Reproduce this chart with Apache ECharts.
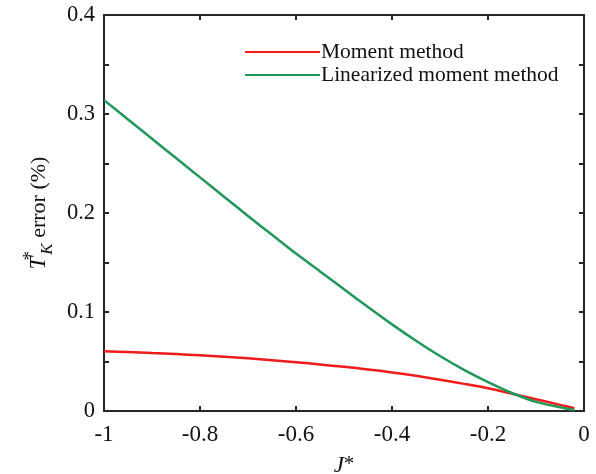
<!DOCTYPE html>
<html>
<head>
<meta charset="utf-8">
<script src="https://cdn.jsdelivr.net/npm/echarts@6/dist/echarts.min.js"></script>
<style>
  html, body { margin: 0; padding: 0; background: #fff; }
  #chart { width: 596px; height: 474px; }
</style>
</head>
<body>
<div id="chart"></div>
<script>
// Exchange parameter J* (shared by both curves)
const jValues = [-1, -0.95, -0.9, -0.85, -0.8, -0.75, -0.7, -0.65, -0.6, -0.55, -0.5,
  -0.45, -0.4, -0.35, -0.3, -0.25, -0.2, -0.15, -0.1, -0.05, -0.02];
// T*_K error (%) of the moment method
const momentErr = [0.0603, 0.0595, 0.0585, 0.0575, 0.0563, 0.0548, 0.0532, 0.0513, 0.0492, 0.047, 0.0446,
  0.042, 0.039, 0.0355, 0.0316, 0.0274, 0.0229, 0.0175, 0.0118, 0.0062, 0.0028];
// T*_K error (%) of the linearized moment method
const linearizedErr = [0.314, 0.2945, 0.275, 0.2555, 0.236, 0.2165, 0.197, 0.178, 0.159, 0.141, 0.123,
  0.105, 0.0875, 0.071, 0.0555, 0.0415, 0.0292, 0.0182, 0.0092, 0.0038, 0.001];
// Axis ticks
const xTicks = { min: -1, max: 0, step: 0.2 };
const yTicks = { min: 0, max: 0.4, step: 0.05, labelStep: 0.1 };
const seriesNames = ['Moment method', 'Linearized moment method'];

const FONT = 'Liberation Serif';
const INK = '#111';
const AXIS = '#262626';

const pairs = (ys) => jValues.map((x, i) => [x, ys[i]]);

const axisLineStyle = { show: true, onZero: false, lineStyle: { color: AXIS, width: 2 } };
const tickStyle = { show: true, inside: true, length: 5, lineStyle: { color: AXIS, width: 2 } };

// Only every other y tick carries a label
const yLabel = (v) => {
  const r = v / yTicks.labelStep;
  return Math.abs(r - Math.round(r)) < 1e-6 ? String(+v.toFixed(2)) : '';
};

const chart = echarts.init(document.getElementById('chart'), null, { renderer: 'canvas' });
chart.setOption({
  animation: false,
  backgroundColor: '#fff',
  grid: { left: 104, right: 12, top: 15, bottom: 63, containLabel: false, outerBoundsMode: 'none' },
  legend: {
    orient: 'vertical',
    left: 240,
    top: 36,
    itemWidth: 75,
    itemHeight: 14,
    itemGap: 1,
    icon: 'path://M0,6 L75,6 L75,8 L0,8 Z',
    textStyle: { fontFamily: FONT, fontSize: 21.5, lineHeight: 22, color: INK, padding: [0, 0, 0, -4] },
    data: seriesNames
  },
  xAxis: [
    {
      type: 'value', min: xTicks.min, max: xTicks.max, interval: xTicks.step,
      axisLine: axisLineStyle, axisTick: tickStyle, splitLine: { show: false },
      axisLabel: { fontFamily: FONT, fontSize: 23, color: INK, margin: 12 },
      name: '{j|J}{s|*}', nameLocation: 'middle', nameGap: 43,
      nameTextStyle: {
        rich: {
          j: { fontFamily: FONT, fontSize: 23, fontStyle: 'italic', color: INK },
          s: { fontFamily: FONT, fontSize: 21, color: INK, verticalAlign: 'top', lineHeight: 24 }
        }
      }
    },
    {
      type: 'value', position: 'top', min: xTicks.min, max: xTicks.max, interval: xTicks.step,
      axisLine: axisLineStyle, axisTick: tickStyle, axisLabel: { show: false }, splitLine: { show: false }
    }
  ],
  yAxis: [
    {
      type: 'value', min: yTicks.min, max: yTicks.max, interval: yTicks.step,
      axisLine: axisLineStyle, axisTick: tickStyle, splitLine: { show: false },
      axisLabel: { fontFamily: FONT, fontSize: 22.5, color: INK, margin: 9, formatter: yLabel },
      name: '{t|T}{s|*}{k|K}{e| error (%)}', nameLocation: 'middle', nameGap: 47, nameRotate: 90,
      nameTextStyle: {
        rich: {
          t: { fontFamily: FONT, fontSize: 23, fontStyle: 'italic', color: INK, lineHeight: 34 },
          s: { fontFamily: FONT, fontSize: 19, color: INK, verticalAlign: 'top', width: 2, lineHeight: 34 },
          k: { fontFamily: FONT, fontSize: 17, fontStyle: 'italic', color: INK, verticalAlign: 'bottom', lineHeight: 34 },
          e: { fontFamily: FONT, fontSize: 22, color: INK, lineHeight: 34 }
        }
      }
    },
    {
      type: 'value', position: 'right', min: yTicks.min, max: yTicks.max, interval: yTicks.step,
      axisLine: axisLineStyle, axisTick: tickStyle, axisLabel: { show: false }, splitLine: { show: false }
    }
  ],
  series: [
    {
      name: seriesNames[0], type: 'line', data: pairs(momentErr),
      smooth: 0.3, symbol: 'none', color: '#f01c1c',
      lineStyle: { color: '#f01c1c', width: 2.5 }, z: 3
    },
    {
      name: seriesNames[1], type: 'line', data: pairs(linearizedErr),
      smooth: 0.3, symbol: 'none', color: '#1f985a',
      lineStyle: { color: '#1f985a', width: 2.5 }, z: 4
    }
  ]
});
</script>
</body>
</html>
